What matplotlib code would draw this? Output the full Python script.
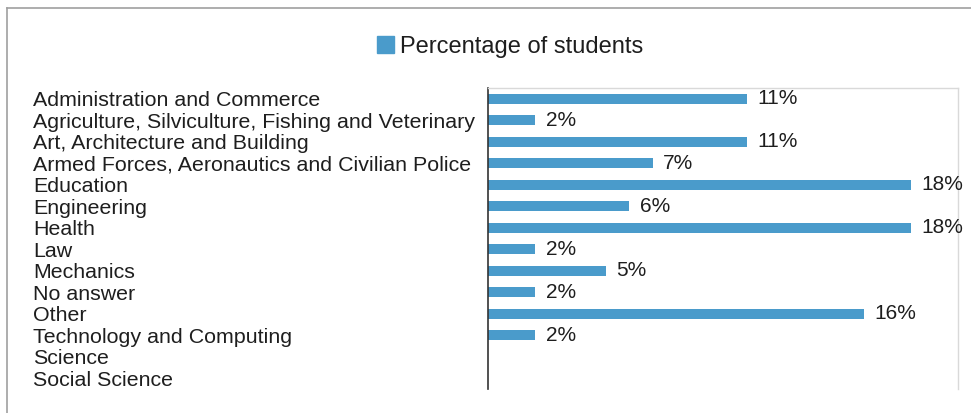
import matplotlib
matplotlib.use("Agg")
import matplotlib.pyplot as plt
from matplotlib.lines import Line2D
from matplotlib.patches import Patch

plt.rcParams['font.family'] = ['Liberation Sans', 'DejaVu Sans']

categorias = [
    "Administration and Commerce",
    "Agriculture, Silviculture, Fishing and Veterinary",
    "Art, Architecture and Building",
    "Armed Forces, Aeronautics and Civilian Police",
    "Education",
    "Engineering",
    "Health",
    "Law",
    "Mechanics",
    "No answer",
    "Other",
    "Technology and Computing",
    "Science",
    "Social Science",
]
porcentajes = [11, 2, 11, 7, 18, 6, 18, 2, 5, 2, 16, 2, None, None]
serie = "Percentage of students"

azul = "#4A9BCB"
texto = "#1e1e1e"
W, H = 971, 413

fig = plt.figure(figsize=(W / 100, H / 100), dpi=100)
ax = fig.add_axes([488 / W, 1 - 389 / H, (958 - 488) / W, (389 - 88) / H])

pos = list(range(len(categorias)))
vals = [v if v is not None else 0 for v in porcentajes]
ax.barh(pos, vals, height=0.47, color=azul)
for i, v in enumerate(porcentajes):
    if v is not None:
        ax.text(v + 0.45, i, f"{v}%", va="center", ha="left", fontsize=15, color=texto)

ax.set_xlim(0, 20)
ax.set_ylim(len(categorias) - 0.5, -0.5)
ax.set_xticks([])
ax.set_yticks(pos)
ax.set_yticklabels(categorias, fontsize=15.4, color=texto)
ax.tick_params(axis="y", length=0, pad=(488 - 33) * 0.72)
for lbl in ax.get_yticklabels():
    lbl.set_horizontalalignment("left")

ax.spines["bottom"].set_visible(False)
ax.spines["left"].set_color("#333333")
ax.spines["left"].set_linewidth(1.2)
for s in ["top", "right"]:
    ax.spines[s].set_color("#d9d9d9")
    ax.spines[s].set_linewidth(1)

fig.legend(handles=[Patch(color=azul, label=serie)], loc="center",
           bbox_to_anchor=(510 / W, 1 - 47 / H), frameon=False, fontsize=17,
           handlelength=0.72, handleheight=0.72, handletextpad=0.25, labelcolor=texto)

# marco exterior
fig.add_artist(Line2D([7 / W, 1], [1 - 8 / H, 1 - 8 / H], color="#a0a0a0", lw=1.2))
fig.add_artist(Line2D([7 / W, 7 / W], [0, 1 - 8 / H], color="#a0a0a0", lw=1.2))

fig.savefig("out.png", dpi=100)
